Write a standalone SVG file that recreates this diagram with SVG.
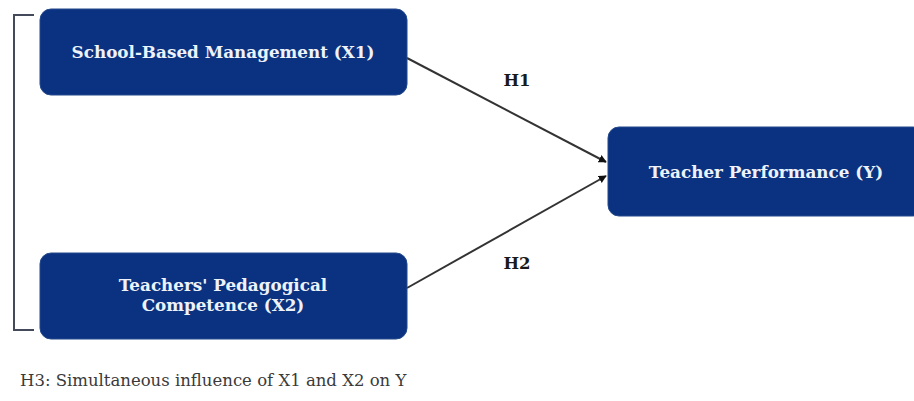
<svg xmlns="http://www.w3.org/2000/svg" width="914" height="401" viewBox="0 0 914 401">
<defs>
<style>
.box{fill:#0b3280;stroke:#24498c;stroke-width:1}
.t{font-family:"DejaVu Serif",serif;font-weight:bold;font-size:16.8px;fill:#eef2fa;text-anchor:middle}
.lab{font-family:"DejaVu Serif",serif;font-weight:bold;font-size:16.5px;fill:#1a1a1a;text-anchor:middle}
.edge{stroke:#333;stroke-width:2;fill:none}
.note{font-family:"DejaVu Serif",serif;font-size:16.5px;fill:#3a3a3a}
</style>
<marker id="ah" viewBox="0 0 10 10" refX="9" refY="5" markerWidth="4" markerHeight="4" orient="auto">
<path d="M0,0 L10,5 L0,10 z" fill="#111"/>
</marker>
</defs>
<rect width="914" height="401" fill="#fff"/>
<g id="bracket">
<path d="M34,15 H14 V330 H34" fill="none" stroke="#444a5a" stroke-width="2"/>
</g>
<g id="connectors">
<line class="edge" x1="407" y1="58" x2="606" y2="162" marker-end="url(#ah)"/>
<line class="edge" x1="407" y1="288" x2="606" y2="176" marker-end="url(#ah)"/>
<text class="lab" x="517" y="86">H1</text>
<text class="lab" x="517" y="269">H2</text>
</g>
<g id="x1">
<rect class="box" x="40" y="9" width="367" height="86" rx="11"/>
<text class="t" x="223" y="58">School-Based Management (X1)</text>
</g>
<g id="x2">
<rect class="box" x="40" y="253" width="367" height="86" rx="11"/>
<text class="t" x="223" y="291">Teachers' Pedagogical</text>
<text class="t" x="223" y="311">Competence (X2)</text>
</g>
<g id="y">
<rect class="box" x="608" y="127" width="316" height="89" rx="11"/>
<text class="t" x="766" y="178">Teacher Performance (Y)</text>
</g>
<text class="note" x="20" y="386">H3: Simultaneous influence of X1 and X2 on Y</text>
</svg>
